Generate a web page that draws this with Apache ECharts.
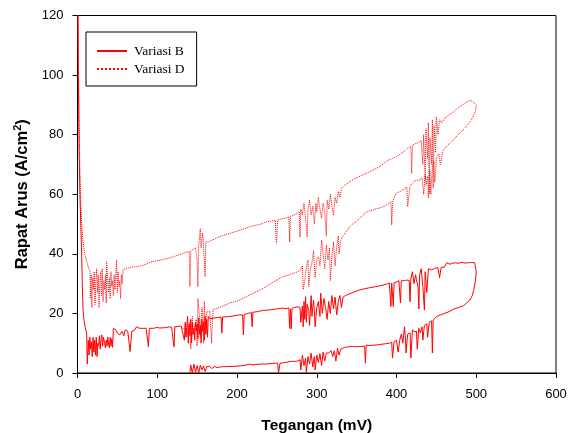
<!DOCTYPE html>
<html>
<head>
<meta charset="utf-8">
<script src="https://cdn.jsdelivr.net/npm/echarts@6/dist/echarts.min.js"></script>
<style>
    html, body { margin: 0; padding: 0; background: #fff; }
    #chart { width: 573px; height: 433px; }
</style>
</head>
<body>
<div id="chart"></div>
<script>
// [tegangan mV, rapat arus A/cm2]
const bForward = [
    [0, 150], [1, 100], [2, 75], [3, 60], [4, 51], [5, 42], [6, 30], [7, 21], [8, 18], [9.5, 15.5], [11.5, 13.4], [12.3, 3],
    [13.5, 11], [14.5, 6], [15.5, 12], [16.5, 8], [17.5, 10.5], [18.5, 5.5], [19.5, 12], [20.5, 7], [21.5, 11], [22.5, 6],
    [23.5, 12], [24.5, 5.5], [25.5, 10], [26.5, 9], [27.5, 12.5], [28.5, 8], [29.5, 11.5], [30.5, 12.8], [31.5, 9], [32.5, 12],
    [34, 10], [35, 8.5], [36, 11], [37, 9], [38, 12], [39, 9.5], [40, 8.5], [41, 12], [42, 9], [43, 11.5], [44, 8.6],
    [45, 15], [48, 14.5], [50, 13.4], [53, 12.8], [56, 14], [58, 12.5], [60, 14.5], [63, 14], [65, 13.5], [66, 7.2], [68, 14],
    [71, 14.2], [74, 15.5], [78, 15], [82, 15], [86, 15], [89, 8.8], [90, 15], [95, 15], [100, 15.3], [103, 15.1], [110, 15.2],
    [115, 15.5], [118, 15.3], [121, 8.8], [122, 15.5], [126, 15.6], [130, 15.8], [132, 15.5], [134, 11], [135, 17], [136, 12],
    [138, 19], [139, 10], [140, 16.5], [141, 12.5], [142, 18], [143, 10], [144, 17], [145, 13], [146, 15], [147, 11], [148, 17],
    [149, 14], [150, 16.5], [151, 11.5], [152, 18.5], [153, 13], [154, 16], [155, 10], [156, 18], [157, 14], [158, 17], [159, 11],
    [160, 19], [161, 13], [162, 18], [163, 12], [164, 19], [166, 18.2], [170, 18.4], [175, 18.6], [180, 18.8], [181, 13.4],
    [182, 18.8], [187, 18.9], [192, 19], [197, 19.2], [203, 19.5], [207, 19.5], [208, 12.8], [209, 19.6], [214, 20], [218, 20.3],
    [219, 15.5], [220, 20.4], [226, 20.6], [232, 21], [238, 21.1], [245, 21.3], [250, 21.5], [257, 21.8], [262, 21.6], [265, 21.8],
    [266, 15], [267, 21.5], [268, 14.8], [269, 21.7], [272, 22], [276, 22.2], [279, 22], [280, 17], [282, 22.5], [283, 15.5],
    [284, 24], [285, 18], [286, 25.6], [287, 17], [288, 23], [290, 21], [291, 16], [293, 26], [294, 19], [296, 24.5], [297, 21],
    [298, 15.5], [300, 22], [302, 24], [304, 19], [305, 26.8], [307, 20], [309, 25], [311, 22], [313, 18], [315, 24], [317, 20],
    [319, 26], [321, 21.5], [323, 25.5], [325, 19.5], [327, 24], [329, 26], [331, 22], [333, 25.5], [336, 26], [340, 26.5],
    [345, 27], [350, 27.5], [354, 27.9], [360, 28.3], [366, 28.6], [372, 28.9], [378, 29.2], [383, 29.5], [387, 29.8], [391, 30.2],
    [393, 22.3], [394, 30.2], [396, 22.3], [397, 30.3], [400, 30.5], [403, 31], [405, 23.5], [406, 31], [410, 31], [413, 31.2],
    [416, 31], [417, 23.9], [418, 31.5], [420, 34], [422, 30], [424, 33], [425, 31.2], [427, 29], [428, 21.5], [429, 33], [431, 35],
    [433, 29], [435, 21.1], [436, 34], [438, 27], [440, 35], [444, 34.6], [448, 35.2], [452, 35.3], [454, 32], [456, 35.5],
    [460, 35.5], [463, 37], [467, 36.5], [470, 36.8], [474, 37], [478, 36.8], [482, 37.2], [486, 36.9], [490, 37], [494, 37.1],
    [498, 37], [500, 37]
]
const bReverse = [
    [500, 34], [499, 31], [497, 28], [495, 26], [492, 24.5], [488, 23.5], [484, 22.6], [478, 22], [472, 21.5], [466, 20.6],
    [460, 20], [455, 19.5], [450, 18.9], [448, 19.5], [446, 17.8], [445, 6.7], [444, 17.5], [441, 17], [439, 12], [438, 16.5],
    [435, 16], [433, 11], [432, 15.5], [430, 13.5], [428, 15], [426, 8], [425, 14], [422, 13.8], [420, 14.5], [418, 5], [417, 13.5],
    [414, 13], [412, 6.7], [411, 12.5], [410, 15.5], [408, 10], [406, 13], [404, 11], [402, 7], [400, 11], [397, 10.5], [395, 5],
    [394, 10.3], [391, 10], [386, 9.8], [380, 9.6], [375, 9.4], [370, 9.3], [365, 9.2], [362, 9.4], [361, 3.3], [360, 9],
    [355, 8.9], [350, 8.8], [345, 8.9], [340, 8.8], [335, 8.6], [333, 8.8], [330, 8], [328, 6], [326, 8.3], [324, 4], [322, 7.5],
    [320, 5.5], [318, 7.5], [315, 6.7], [312, 6.7], [310, 4], [308, 7], [306, 2.5], [304, 6.5], [302, 3.5], [300, 6], [298, 1],
    [297, 5.5], [295, 2], [293, 6.7], [291, 3], [289, 5.5], [287, 0], [286, 5], [284, 2.5], [282, 6], [280, 1], [279, 4.5],
    [276, 4], [272, 3.9], [268, 3.9], [266, 3.8], [262, 3.6], [258, 3.4], [254, 3.3], [252, 0], [251, 3.3], [248, 3.3], [245, 3.2],
    [240, 3.1], [235, 3], [230, 3], [225, 2.9], [220, 2.7], [216, 3], [212, 2.7], [208, 2.5], [204, 2.4], [200, 2.3], [195, 2.2],
    [190, 2.2], [185, 2.1], [180, 2.1], [178, 2.1], [175, 1.8], [172, 2.2], [168, 1.5], [165, 2.3], [162, 2.1], [160, 0.5],
    [158, 2.4], [156, 1], [154, 2.6], [152, 0], [150, 2.5], [148, 0.2], [146, 3], [144, 0], [142, 2.7], [141, 0]
]
const dForward = [
    [0, 150], [1, 110], [2, 85], [3, 68], [4, 58], [5, 51], [6, 47], [7, 44], [9, 40], [11, 38], [13, 36], [15.7, 34],
    [16, 25], [17, 33], [18, 22], [19, 32], [20, 28], [21, 34], [22, 23], [23, 31], [24, 35], [25, 27], [26, 33], [27, 22],
    [28, 30], [29, 34], [30, 26], [31, 35], [32, 24], [33, 31], [34, 28], [35, 33], [36, 23.5], [36.5, 37.4], [38, 30], [39, 27],
    [40, 32], [41, 25], [42, 34], [43, 29], [44, 31], [45, 26], [46, 33], [47, 28], [49, 38], [50, 27], [51, 34], [52, 29],
    [53, 31], [54, 25], [55, 33], [56, 30], [57, 34.6], [60, 35], [64, 35.3], [68, 35.6], [74, 35.7], [80, 36], [86, 36.5],
    [91, 37.2], [98, 37.6], [104, 37.9], [110, 38.3], [116, 38.6], [122, 39.2], [128, 39.8], [134, 40.3], [140, 40.8], [141, 29],
    [142, 41], [145, 41.5], [148, 42], [150, 37.9], [151, 29], [152, 43], [154, 48.5], [155, 42], [157, 47], [158, 43], [160, 32.3],
    [161, 44], [164, 44], [168, 44.5], [172, 45], [178, 45.8], [184, 46.3], [190, 46.8], [196, 47.3], [202, 47.8], [208, 48.3],
    [212, 48.7], [218, 49.2], [224, 49.6], [230, 50], [237, 50.8], [243, 51], [248, 51.2], [249.5, 43.5], [251, 51.3], [256, 51.8],
    [262, 52], [265, 52.5], [266, 44], [267, 52.5], [271, 53], [275, 53.5], [278, 54], [279, 45.6], [280, 55], [282, 53], [284, 57],
    [286, 52], [288, 45.6], [289, 55], [291, 58], [293, 53], [295, 56], [297, 50], [299, 57], [300, 54], [302, 59], [304, 55],
    [306, 52], [308, 57], [310, 54], [312, 46], [313, 58], [315, 55], [317, 60], [319, 56], [321, 53], [323, 59], [325, 57],
    [327, 61], [329, 59], [331, 62], [335, 63], [340, 64], [345, 64.8], [350, 65.5], [356, 66.3], [362, 67], [368, 67.8],
    [374, 68.6], [379, 69.3], [385, 70.5], [390, 71.5], [395, 72], [400, 72.6], [405, 73.5], [410, 74.5], [414, 75.5], [418, 76],
    [419, 67], [420, 76.5], [424, 77], [428, 77.5], [431, 78], [433, 70], [434, 80], [436, 65], [437, 82], [439, 72], [440, 84],
    [441, 60], [442, 79], [444, 70], [445, 85], [446, 62], [447, 83], [449, 74], [450, 86], [452, 80], [454, 85], [457, 84],
    [460, 85.5], [465, 86.5], [470, 87.3], [475, 88.5], [480, 89.5], [486, 90.5], [492, 91.6], [496, 91], [498, 90.5], [500, 90]
]
const dReverse = [
    [500, 89.4], [499, 88], [496, 86], [492, 84.3], [487.5, 82.7], [481, 81], [475, 79.3], [469, 77.6], [462.5, 76], [458, 74.5],
    [455, 70], [453, 73.5], [450, 72], [448, 64], [447, 71], [445, 69.5], [443, 60], [442, 68], [441.5, 67], [440, 58.7],
    [439, 66], [437, 63], [436, 66.5], [434, 60], [432, 65.5], [430, 65], [428, 64.5], [425, 64.8], [423, 64.2], [420, 63.8],
    [417, 62.7], [414, 55.8], [413, 62.4], [410, 61.8], [405, 61], [400, 60.4], [397, 59], [395, 57], [394, 49.7], [393, 57.5],
    [390, 56.8], [385, 56], [379, 55.4], [373, 55], [368, 54.5], [362, 54], [356, 52.5], [350, 51], [345, 50], [341, 49],
    [337, 47.5], [333, 46], [330, 44.5], [328, 40], [327, 46], [325, 42.4], [323, 36], [321, 44], [319, 39], [317, 31], [316, 42],
    [314, 38], [312, 43], [310, 35], [308, 40], [306, 44.6], [304, 36], [302, 39], [300, 38], [298, 32], [296, 41], [294, 37],
    [292, 35], [290, 29], [289, 38], [287, 35.5], [285, 31], [283, 28], [282, 36], [280, 34.6], [276, 34], [271, 33.5], [266, 33],
    [262, 32.7], [257, 32.3], [252, 31.5], [246, 30.6], [241, 29.8], [236, 28.9], [230, 28], [224, 27.2], [216, 26.2], [210, 25.3],
    [203.5, 24.5], [198, 24], [191, 23.5], [185, 22.8], [180, 22.2], [175, 21.7], [170, 21.3], [169, 21], [168, 10], [166, 20.8],
    [162, 20.5], [160, 14], [159, 24], [158, 10], [157, 19], [156, 22], [154, 12], [153, 19], [151, 25], [150, 9], [149, 18],
    [147, 16], [145, 13], [144, 19], [142, 8], [141, 17], [139, 15], [137, 12], [135, 15], [133, 14.4], [131, 15]
]

const xMin = 0, xMax = 600, xStep = 100
const yMin = 0, yMax = 120, yStep = 20

let myChart = echarts.init(document.getElementById('chart'), null, { renderer: 'canvas' })
let option = {
    animation: false,
    backgroundColor: '#fff',
    textStyle: { fontFamily: 'Liberation Sans' },
    grid: {
        left: 77.5,
        right: 17,
        top: 15.5,
        bottom: 60,
        containLabel: false,
        outerBoundsMode: 'none', // keep the plot box exactly where it is
        show: true,
        borderColor: '#000',
        borderWidth: 1
    },
    legend: {
        orient: 'vertical',
        left: 86,
        top: 32,
        padding: [12, 12, 10, 10],
        itemWidth: 30,
        itemHeight: 14,
        itemGap: 4,
        borderColor: '#000',
        borderWidth: 1,
        itemStyle: { opacity: 0 }, // hide the marker, keep the line sample
        textStyle: {
            fontFamily: 'Liberation Serif',
            fontSize: 13.5,
            color: '#000',
            padding: [0, 0, 0, 2]
        },
        data: ['Variasi B', 'Variasi D']
    },
    xAxis: {
        type: 'value',
        min: xMin,
        max: xMax,
        interval: xStep,
        name: 'Tegangan (mV)',
        nameLocation: 'middle',
        nameGap: 45,
        nameTextStyle: { fontSize: 15.5, fontWeight: 'bold', color: '#000' },
        axisLine: { lineStyle: { color: '#000', width: 1 } },
        axisTick: { show: true, length: 5, lineStyle: { color: '#000' } },
        axisLabel: { color: '#000', fontSize: 13, margin: 15 },
        splitLine: { show: false }
    },
    yAxis: {
        type: 'value',
        min: yMin,
        max: yMax,
        interval: yStep,
        name: 'Rapat Arus (A/cm{sup|2})',
        nameLocation: 'middle',
        nameGap: 43,
        nameTextStyle: {
            fontSize: 16.5,
            fontWeight: 'bold',
            color: '#000',
            rich: {
                sup: { fontSize: 11, fontWeight: 'bold', color: '#000', verticalAlign: 'bottom', padding: [0, 0, 8, 0] }
            }
        },
        axisLine: { lineStyle: { color: '#000', width: 1 } },
        axisTick: { show: true, length: 5, lineStyle: { color: '#000' } },
        axisLabel: { color: '#000', fontSize: 13, margin: 14 },
        splitLine: { show: false }
    },
    series: [
        {
            name: 'Variasi B',
            type: 'line',
            symbol: 'none',
            clip: true,
            lineStyle: { color: '#ff0000', width: 1 },
            itemStyle: { color: '#ff0000' },
            data: bForward.concat(bReverse)
        },
        {
            name: 'Variasi D',
            type: 'line',
            symbol: 'none',
            clip: true,
            lineStyle: { color: '#ff0000', width: 1, type: 'dotted' },
            itemStyle: { color: '#ff0000' },
            data: dForward.concat(dReverse)
        }
    ]
}

option && myChart.setOption(option)
</script>
</body>
</html>
